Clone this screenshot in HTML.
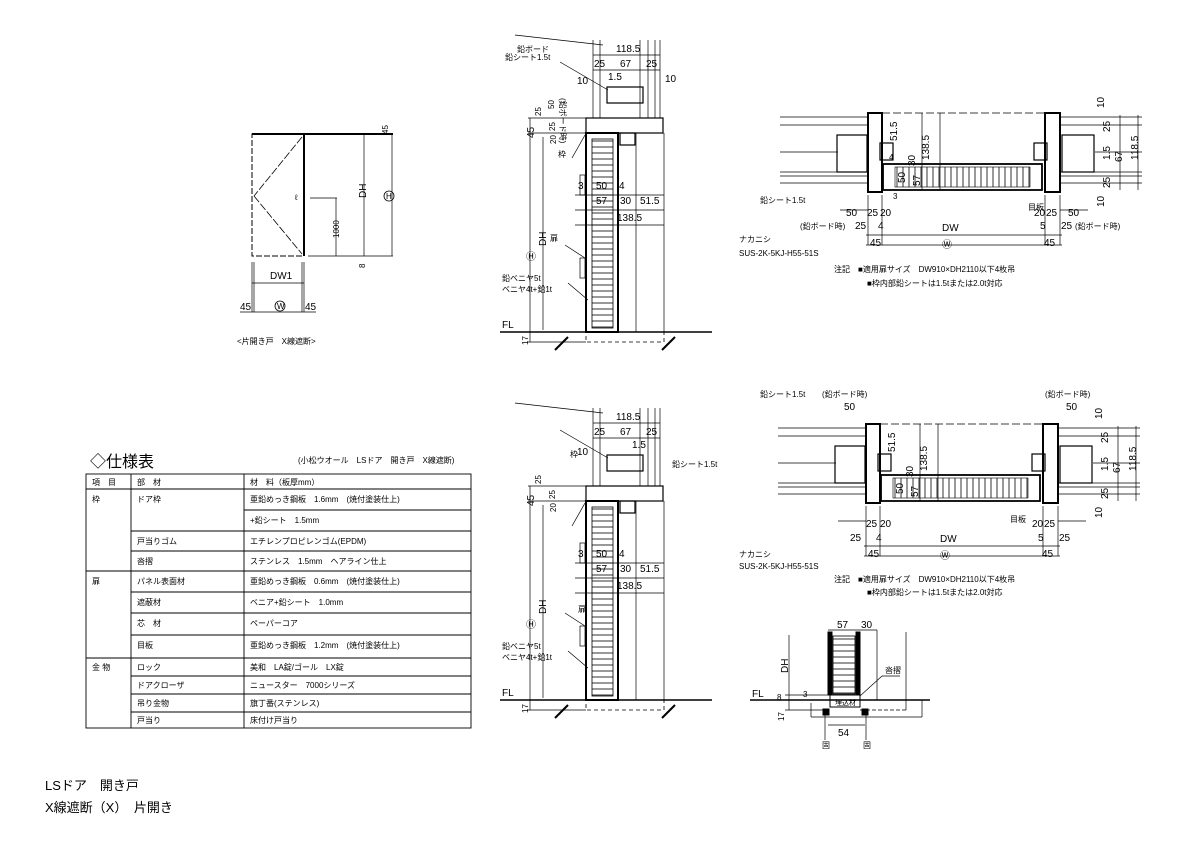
<!DOCTYPE html>
<html><head><meta charset="utf-8"><style>
html,body{margin:0;padding:0;background:#fff;}
svg{display:block;}
text{font-family:"Liberation Sans","Noto Sans CJK JP",sans-serif;fill:#000;}
.t{font-size:10px;}
.s{font-size:8px;}
</style></head><body>
<svg width="1191" height="842" viewBox="0 0 1191 842" xmlns="http://www.w3.org/2000/svg">
<defs>
<pattern id="hh" width="6" height="6" patternUnits="userSpaceOnUse"><line x1="0" y1="3" x2="6" y2="3" stroke="#000" stroke-width="0.8"/></pattern>
<pattern id="hv" width="6" height="6" patternUnits="userSpaceOnUse"><line x1="3" y1="0" x2="3" y2="6" stroke="#000" stroke-width="0.8"/></pattern>
<g id="sec" fill="none" stroke="#000">
  <g stroke-width="0.7">
    <line x1="593" y1="40" x2="593" y2="118"/><line x1="600" y1="40" x2="600" y2="118"/>
    <line x1="640" y1="40" x2="640" y2="118"/><line x1="648" y1="40" x2="648" y2="118"/>
    <line x1="655" y1="40" x2="655" y2="118"/><line x1="660" y1="40" x2="660" y2="118"/>
    <line x1="636" y1="133" x2="636" y2="332"/><line x1="664" y1="133" x2="664" y2="332"/>
    <line x1="530" y1="118" x2="530" y2="342"/><line x1="543" y1="137" x2="543" y2="330"/>
    <line x1="528" y1="118" x2="586" y2="118"/><line x1="528" y1="133" x2="586" y2="133"/>
    <line x1="528" y1="342" x2="586" y2="342"/>
    <line x1="575" y1="195" x2="664" y2="195"/><line x1="575" y1="210" x2="664" y2="210"/>
    <line x1="575" y1="225" x2="664" y2="225"/>
    <line x1="593" y1="55" x2="660" y2="55"/><line x1="593" y1="70" x2="660" y2="70"/>
    <rect x="580" y="175" width="5" height="20"/><rect x="580" y="258" width="5" height="20"/>
  </g>
  <rect x="586" y="118" width="77" height="15" stroke-width="1.2"/>
  <rect x="620" y="133" width="15" height="12" stroke-width="1.2"/>
  <rect x="607" y="87" width="36" height="16" stroke-width="1.2"/>
  <rect x="586" y="133" width="32" height="199" stroke-width="2"/>
  <rect x="592" y="139" width="21" height="189" fill="url(#hh)" stroke-width="0.8"/>
  <line x1="500" y1="332" x2="712" y2="332" stroke-width="1.6"/>
  <rect x="586" y="332" width="78" height="10" stroke-dasharray="4,3" stroke-width="0.8"/>
  <line x1="555" y1="350" x2="568" y2="337" stroke-width="2"/>
  <line x1="662" y1="350" x2="675" y2="337" stroke-width="2"/>
  <line x1="603" y1="45" x2="515" y2="35" stroke-width="0.7"/>
  <line x1="608" y1="90" x2="560" y2="62" stroke-width="0.7"/>
  <line x1="585" y1="135" x2="572" y2="158" stroke-width="0.7"/>
  <line x1="585" y1="258" x2="565" y2="245" stroke-width="0.7"/>
  <line x1="588" y1="300" x2="568" y2="283" stroke-width="0.7"/>
</g>
<g id="plan" fill="none" stroke="#000">
  <g stroke-width="0.7">
    <line x1="780" y1="117" x2="868" y2="117"/><line x1="780" y1="125" x2="868" y2="125"/>
    <line x1="780" y1="152" x2="838" y2="152"/><line x1="780" y1="172" x2="868" y2="172"/>
    <line x1="780" y1="176" x2="868" y2="176"/><line x1="780" y1="183" x2="868" y2="183"/>
    <line x1="1060" y1="117" x2="1142" y2="117"/><line x1="1060" y1="125" x2="1142" y2="125"/>
    <line x1="1095" y1="152" x2="1142" y2="152"/><line x1="1060" y1="172" x2="1142" y2="172"/>
    <line x1="1060" y1="176" x2="1142" y2="176"/><line x1="1060" y1="183" x2="1142" y2="183"/>
    <line x1="882" y1="113" x2="1045" y2="113" stroke-dasharray="8,3"/>
    <line x1="922" y1="113" x2="922" y2="190"/><line x1="940" y1="113" x2="940" y2="190"/>
    <line x1="868" y1="195" x2="868" y2="245"/><line x1="882" y1="195" x2="882" y2="245"/>
    <line x1="1045" y1="195" x2="1045" y2="245"/><line x1="1060" y1="195" x2="1060" y2="245"/>
    <line x1="866" y1="235" x2="1062" y2="235"/><line x1="866" y1="245" x2="1062" y2="245"/>
    <line x1="1120" y1="115" x2="1120" y2="190"/><line x1="1138" y1="115" x2="1138" y2="190"/>
    <line x1="840" y1="210" x2="868" y2="210"/><line x1="1060" y1="210" x2="1088" y2="210"/>
  </g>
  <path d="M868 113 H882 V192 H868 Z" stroke-width="2"/>
  <path d="M1045 113 H1060 V192 H1045 Z" stroke-width="2"/>
  <rect x="880" y="143" width="13" height="17" stroke-width="1.2"/>
  <rect x="1034" y="143" width="13" height="17" stroke-width="1.2"/>
  <rect x="837" y="135" width="30" height="37" stroke-width="1.2"/>
  <rect x="1062" y="135" width="32" height="37" stroke-width="1.2"/>
  <rect x="883" y="164" width="159" height="26" stroke-width="1.8"/>
  <rect x="895" y="167" width="135" height="20" fill="url(#hv)" stroke-width="0.6"/>
</g>
</defs>

<!-- elevation -->
<g fill="none" stroke="#000">
  <rect x="252" y="134" width="52" height="122" stroke-width="1" stroke-dasharray="6,2"/>
  <line x1="304" y1="134" x2="304" y2="256" stroke-width="2"/>
  <line x1="252" y1="134" x2="304" y2="134" stroke-width="2"/>
  <line x1="304" y1="134" x2="393" y2="134" stroke-width="2"/>
  <line x1="302" y1="137" x2="254" y2="196" stroke-width="0.8" stroke-dasharray="8,2"/>
  <line x1="254" y1="196" x2="302" y2="254" stroke-width="0.8" stroke-dasharray="8,2"/>
  <g stroke-width="0.7">
    <line x1="310" y1="198" x2="337" y2="198"/><line x1="336" y1="198" x2="336" y2="256"/>
    <line x1="364" y1="134" x2="364" y2="256"/><line x1="392" y1="134" x2="392" y2="256"/>
    <line x1="308" y1="256" x2="393" y2="256"/>
    <line x1="252" y1="262" x2="252" y2="312"/><line x1="304" y1="262" x2="304" y2="312"/>
    <line x1="254" y1="262" x2="254" y2="312"/><line x1="302" y1="262" x2="302" y2="312"/>
    <line x1="252" y1="283" x2="304" y2="283"/><line x1="240" y1="312" x2="316" y2="312"/>
  </g>
  <circle cx="280" cy="306" r="5" stroke-width="0.8"/>
  <circle cx="389" cy="196" r="5" stroke-width="0.8"/>
</g>
<text class="s" x="380" y="130" transform="rotate(-90 386 128)">45</text>
<text class="t" x="360" y="200" transform="rotate(-90 362 196)">DH</text>
<text class="s" x="322" y="235" transform="rotate(-90 332 228)">1000</text>
<text class="s" x="357" y="268" transform="rotate(-90 361 264)">8</text>
<text class="s" x="386" y="199">H</text>
<text class="t" x="270" y="279">DW1</text>
<text class="s" x="277" y="309">W</text>
<text class="t" x="240" y="310">45</text>
<text class="t" x="305" y="310">45</text>
<text class="s" x="295" y="200">ℓ</text>
<text class="s" x="237" y="344">&lt;片開き戸　X線遮断&gt;</text>

<!-- top section -->
<use href="#sec"/>
<text class="t" x="616" y="52">118.5</text>
<text class="t" x="594" y="67">25</text><text class="t" x="620" y="67">67</text><text class="t" x="646" y="67">25</text>
<text class="t" x="608" y="80">1.5</text>
<text class="t" x="577" y="84">10</text><text class="t" x="665" y="82">10</text>
<text class="s" x="517" y="52">鉛ボード</text>
<text class="s" x="505" y="60">鉛シート1.5t</text>
<text class="s" x="558" y="110" transform="rotate(90 565 105)">(鉛ボード時)</text>
<text class="t" x="522" y="140" transform="rotate(-90 527 133)">45</text>
<text class="s" x="532" y="115" transform="rotate(-90 537 111)">25</text>
<text class="s" x="545" y="108" transform="rotate(-90 550 104)">50</text>
<text class="s" x="546" y="130" transform="rotate(-90 551 126)">25</text>
<text class="s" x="548" y="144" transform="rotate(-90 552 140)">20</text>
<text class="s" x="558" y="157">枠</text>
<text class="t" x="578" y="189">3</text><text class="t" x="596" y="189">50</text><text class="t" x="619" y="189">4</text>
<text class="t" x="596" y="204">57</text><text class="t" x="620" y="204">30</text><text class="t" x="640" y="204">51.5</text>
<text class="t" x="617" y="221">138.5</text>
<text class="t" x="538" y="246" transform="rotate(-90 542 242)">DH</text>
<text class="t" x="526" y="260">Ⓗ</text>
<text class="s" x="550" y="241">扉</text>
<text class="s" x="502" y="281">鉛ベニヤ5t</text>
<text class="s" x="502" y="292">ベニヤ4t+鉛1t</text>
<text class="t" x="502" y="328">FL</text>
<text class="s" x="519" y="344" transform="rotate(-90 524 340)">17</text>

<!-- bottom section -->
<g transform="translate(0,368)"><use href="#sec"/></g>
<text class="t" x="616" y="420">118.5</text>
<text class="t" x="594" y="435">25</text><text class="t" x="620" y="435">67</text><text class="t" x="646" y="435">25</text>
<text class="t" x="632" y="448">1.5</text>
<text class="t" x="577" y="455">10</text>
<text class="s" x="570" y="457">枠</text>
<text class="s" x="672" y="467">鉛シート1.5t</text>
<text class="t" x="522" y="508" transform="rotate(-90 527 501)">45</text>
<text class="s" x="532" y="483" transform="rotate(-90 537 479)">25</text>
<text class="s" x="546" y="498" transform="rotate(-90 551 494)">25</text>
<text class="s" x="548" y="512" transform="rotate(-90 552 508)">20</text>
<text class="t" x="578" y="557">3</text><text class="t" x="596" y="557">50</text><text class="t" x="619" y="557">4</text>
<text class="t" x="596" y="572">57</text><text class="t" x="620" y="572">30</text><text class="t" x="640" y="572">51.5</text>
<text class="t" x="617" y="589">138.5</text>
<text class="t" x="538" y="614" transform="rotate(-90 542 610)">DH</text>
<text class="t" x="526" y="628">Ⓗ</text>
<text class="s" x="578" y="612">扉</text>
<text class="s" x="502" y="649">鉛ベニヤ5t</text>
<text class="s" x="502" y="660">ベニヤ4t+鉛1t</text>
<text class="t" x="502" y="696">FL</text>
<text class="s" x="519" y="712" transform="rotate(-90 524 708)">17</text>

<!-- top plan -->
<use href="#plan"/>
<text class="t" x="896" y="120" transform="rotate(-90 907 130)">51.5</text>
<text class="t" x="919" y="158" transform="rotate(-90 925 154)">138.5</text>
<text class="t" x="904" y="165" transform="rotate(-90 910 160)">30</text>
<text class="s" x="889" y="160">4</text>
<text class="t" x="896" y="182" transform="rotate(-90 901 178)">50</text>
<text class="t" x="910" y="184" transform="rotate(-90 916 180)">57</text>
<text class="s" x="893" y="199">3</text>
<text class="t" x="1093" y="105" transform="rotate(-90 1100 101)">10</text>
<text class="t" x="1100" y="130" transform="rotate(-90 1106 126)">25</text>
<text class="t" x="1100" y="158" transform="rotate(-90 1106 154)">1.5</text>
<text class="t" x="1112" y="160" transform="rotate(-90 1118 156)">67</text>
<text class="t" x="1128" y="158" transform="rotate(-90 1134 154)">118.5</text>
<text class="t" x="1100" y="186" transform="rotate(-90 1106 182)">25</text>
<text class="t" x="1093" y="204" transform="rotate(-90 1100 200)">10</text>
<text class="s" x="760" y="203">鉛シート1.5t</text>
<text class="s" x="1028" y="210">目板</text>
<text class="t" x="846" y="216">50</text><text class="t" x="867" y="216">25</text><text class="t" x="880" y="216">20</text>
<text class="t" x="1034" y="216">20</text><text class="t" x="1046" y="216">25</text><text class="t" x="1068" y="216">50</text>
<text class="s" x="800" y="229">(鉛ボード時)</text><text class="t" x="855" y="229">25</text><text class="t" x="878" y="229">4</text>
<text class="t" x="942" y="231">DW</text>
<text class="t" x="1040" y="229">5</text><text class="t" x="1061" y="229">25</text><text class="s" x="1075" y="229">(鉛ボード時)</text>
<text class="t" x="870" y="246">45</text><text class="t" x="1044" y="246">45</text><text class="t" x="942" y="248">Ⓦ</text>
<text class="s" x="739" y="242">ナカニシ</text>
<text class="s" x="739" y="256">SUS-2K-5KJ-H55-51S</text>
<text class="s" x="834" y="272">注記　■適用扉サイズ　DW910×DH2110以下4枚吊</text>
<text class="s" x="867" y="286">■枠内部鉛シートは1.5tまたは2.0t対応</text>

<!-- bottom plan -->
<g transform="translate(-2,311)"><use href="#plan"/></g>
<text class="s" x="760" y="397">鉛シート1.5t</text>
<text class="s" x="822" y="397">(鉛ボード時)</text>
<text class="s" x="1045" y="397">(鉛ボード時)</text>
<text class="t" x="844" y="410">50</text><text class="t" x="1066" y="410">50</text>
<text class="t" x="894" y="431" transform="rotate(-90 905 441)">51.5</text>
<text class="t" x="917" y="469" transform="rotate(-90 923 465)">138.5</text>
<text class="t" x="902" y="476" transform="rotate(-90 908 471)">30</text>
<text class="t" x="894" y="493" transform="rotate(-90 899 489)">50</text>
<text class="t" x="908" y="495" transform="rotate(-90 914 491)">57</text>
<text class="t" x="1091" y="416" transform="rotate(-90 1098 412)">10</text>
<text class="t" x="1098" y="441" transform="rotate(-90 1104 437)">25</text>
<text class="t" x="1098" y="469" transform="rotate(-90 1104 465)">1.5</text>
<text class="t" x="1110" y="471" transform="rotate(-90 1116 467)">67</text>
<text class="t" x="1126" y="469" transform="rotate(-90 1132 465)">118.5</text>
<text class="t" x="1098" y="497" transform="rotate(-90 1104 493)">25</text>
<text class="t" x="1091" y="515" transform="rotate(-90 1098 511)">10</text>
<text class="s" x="1010" y="522">目板</text>
<text class="t" x="866" y="527">25</text><text class="t" x="880" y="527">20</text>
<text class="t" x="1032" y="527">20</text><text class="t" x="1044" y="527">25</text>
<text class="t" x="850" y="541">25</text><text class="t" x="876" y="541">4</text>
<text class="t" x="940" y="542">DW</text>
<text class="t" x="1038" y="541">5</text><text class="t" x="1059" y="541">25</text>
<text class="t" x="868" y="557">45</text><text class="t" x="1042" y="557">45</text><text class="t" x="940" y="559">Ⓦ</text>
<text class="s" x="739" y="557">ナカニシ</text>
<text class="s" x="739" y="569">SUS-2K-5KJ-H55-51S</text>
<text class="s" x="834" y="582">注記　■適用扉サイズ　DW910×DH2110以下4枚吊</text>
<text class="s" x="867" y="595">■枠内部鉛シートは1.5tまたは2.0t対応</text>

<!-- small section -->
<g fill="none" stroke="#000">
  <line x1="750" y1="700" x2="930" y2="700" stroke-width="1.6"/>
  <rect x="828" y="632" width="4" height="63" fill="#000"/>
  <rect x="856" y="632" width="4" height="63" fill="#000"/>
  <rect x="833" y="636" width="22" height="58" fill="url(#hh)" stroke-width="0.8"/>
  <rect x="830" y="695" width="30" height="12" stroke-width="1"/>
  <g stroke-width="0.7">
    <line x1="828" y1="630" x2="877" y2="630"/><line x1="877" y1="630" x2="877" y2="700"/>
    <line x1="906" y1="632" x2="906" y2="710"/>
    <line x1="789" y1="635" x2="789" y2="710"/>
    <line x1="785" y1="695" x2="828" y2="695"/><line x1="785" y1="710" x2="828" y2="710"/>
    <line x1="811" y1="703" x2="811" y2="717"/><line x1="811" y1="717" x2="922" y2="717"/>
    <line x1="922" y1="700" x2="922" y2="717"/>
    <line x1="860" y1="710" x2="906" y2="710" stroke-dasharray="4,2"/>
    <line x1="828" y1="725" x2="865" y2="725"/>
    <line x1="825" y1="712" x2="825" y2="740"/><line x1="866" y1="712" x2="866" y2="740"/>
    <line x1="860" y1="696" x2="882" y2="676"/><line x1="882" y1="676" x2="900" y2="676"/>
  </g>
  <rect x="823" y="709" width="6" height="6" fill="#000"/><rect x="862" y="709" width="6" height="6" fill="#000"/>
</g>
<text class="t" x="837" y="628">57</text><text class="t" x="861" y="628">30</text>
<text class="t" x="779" y="672" transform="rotate(-90 784 668)">DH</text>
<text class="s" x="885" y="673">沓摺</text>
<text class="t" x="752" y="697">FL</text>
<text class="s" x="803" y="697">3</text>
<text class="s" x="777" y="700">8</text>
<text class="s" x="775" y="720" transform="rotate(-90 780 716)">17</text>
<text class="s" x="835" y="705" style="font-size:7px">埋込材</text>
<text class="t" x="838" y="736">54</text>
<text class="s" x="822" y="748">固</text><text class="s" x="863" y="748">固</text>

<!-- spec table -->
<text x="90" y="467" style="font-size:16px">◇仕様表</text>
<text class="s" x="298" y="463">(小松ウオール　LSドア　開き戸　X線遮断)</text>
<g fill="none" stroke="#000" stroke-width="0.9">
  <rect x="86" y="474" width="385" height="254"/>
  <line x1="131" y1="474" x2="131" y2="728"/><line x1="244" y1="474" x2="244" y2="728"/>
  <line x1="86" y1="489" x2="471" y2="489"/>
  <line x1="244" y1="510" x2="471" y2="510"/>
  <line x1="131" y1="531" x2="471" y2="531"/>
  <line x1="131" y1="551" x2="471" y2="551"/>
  <line x1="86" y1="571" x2="471" y2="571"/>
  <line x1="131" y1="592" x2="471" y2="592"/>
  <line x1="131" y1="613" x2="471" y2="613"/>
  <line x1="131" y1="635" x2="471" y2="635"/>
  <line x1="86" y1="658" x2="471" y2="658"/>
  <line x1="131" y1="676" x2="471" y2="676"/>
  <line x1="131" y1="694" x2="471" y2="694"/>
  <line x1="131" y1="712" x2="471" y2="712"/>
</g>
<g class="s">
<text class="s" x="92" y="485">項　目</text><text class="s" x="137" y="485">部　材</text><text class="s" x="250" y="485">材　料（板厚mm）</text>
<text class="s" x="92" y="502">枠</text><text class="s" x="137" y="502">ドア枠</text><text class="s" x="250" y="502">亜鉛めっき鋼板　1.6mm　(焼付塗装仕上)</text>
<text class="s" x="250" y="523">+鉛シート　1.5mm</text>
<text class="s" x="137" y="544">戸当りゴム</text><text class="s" x="250" y="544">エチレンプロピレンゴム(EPDM)</text>
<text class="s" x="137" y="564">沓摺</text><text class="s" x="250" y="564">ステンレス　1.5mm　ヘアライン仕上</text>
<text class="s" x="92" y="584">扉</text><text class="s" x="137" y="584">パネル表面材</text><text class="s" x="250" y="584">亜鉛めっき鋼板　0.6mm　(焼付塗装仕上)</text>
<text class="s" x="137" y="605">遮蔽材</text><text class="s" x="250" y="605">ベニア+鉛シート　1.0mm</text>
<text class="s" x="137" y="626">芯　材</text><text class="s" x="250" y="626">ペーパーコア</text>
<text class="s" x="137" y="648">目板</text><text class="s" x="250" y="648">亜鉛めっき鋼板　1.2mm　(焼付塗装仕上)</text>
<text class="s" x="92" y="670">金 物</text><text class="s" x="137" y="670">ロック</text><text class="s" x="250" y="670">美和　LA錠/ゴール　LX錠</text>
<text class="s" x="137" y="688">ドアクローザ</text><text class="s" x="250" y="688">ニュースター　7000シリーズ</text>
<text class="s" x="137" y="706">吊り金物</text><text class="s" x="250" y="706">旗丁番(ステンレス)</text>
<text class="s" x="137" y="723">戸当り</text><text class="s" x="250" y="723">床付け戸当り</text>
</g>

<text x="45" y="790" style="font-size:13px">LSドア　開き戸</text>
<text x="45" y="812" style="font-size:13px">X線遮断（X）　片開き</text>
</svg>
</body></html>
